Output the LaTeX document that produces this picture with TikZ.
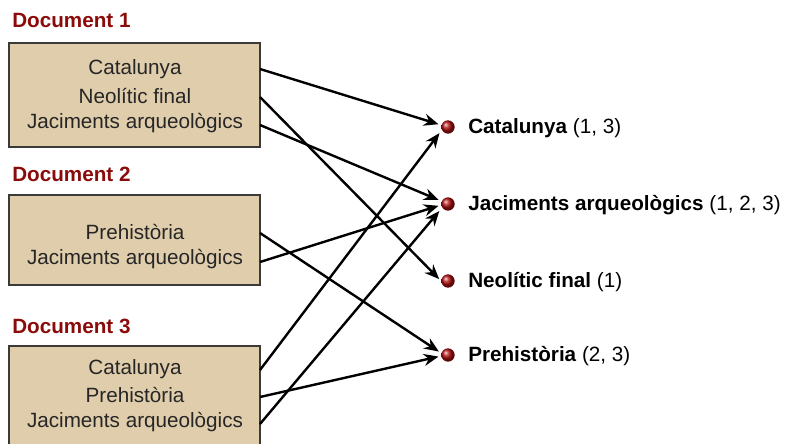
\documentclass[tikz,border=0pt]{standalone}
\usepackage{fontspec}
\setmainfont{Liberation Sans}
\usetikzlibrary{arrows.meta,calc}
\definecolor{doctitle}{HTML}{8B0A0A}
\definecolor{docfill}{HTML}{E0CDAC}
\definecolor{docedge}{HTML}{3A3A3A}
\definecolor{ballred}{HTML}{B01010}
\tikzset{
  doctitle/.style={anchor=west,text=doctitle,font=\fontsize{15.5}{18}\selectfont\bfseries,inner sep=0pt},
  docbox/.style={draw=docedge,fill=docfill,line width=1.2pt},
  docline/.style={text=black!85,font=\fontsize{15.5}{18}\selectfont,inner sep=0pt},
  term/.style={anchor=west,font=\fontsize{15.5}{18}\selectfont,inner sep=0pt},
  link/.style={line width=1.8pt,-{Stealth[length=11pt,width=9pt]},shorten >=2pt},
  ball/.style={circle,inner sep=0pt,minimum size=10pt,ball color=ballred,draw=none}
}
\begin{document}
\begin{tikzpicture}[x=0.75pt,y=-0.75pt]
\useasboundingbox (0,0) rectangle (788,443);
\clip (0,0) rectangle (788,443);

% document titles
\node[doctitle] (t1) at (12,20) {Document 1};
\node[doctitle] (t2) at (12,174) {Document 2};
\node[doctitle] (t3) at (12,326) {Document 3};

% document boxes
\path[docbox] (9,43) rectangle (260,147);
\path[docbox] (9,195) rectangle (260,285);
\path[docbox] (9,346) rectangle (260,460);

% box contents
\node[docline] (a1) at (135,69) {Catalunya};
\node[docline] (a2) at (135,96) {Neolític final};
\node[docline] (a3) at (135,123) {Jaciments arqueològics};
\node[docline] (b1) at (135,232) {Prehistòria};
\node[docline] (b2) at (135,259) {Jaciments arqueològics};
\node[docline] (c1) at (135,369) {Catalunya};
\node[docline] (c2) at (135,395) {Prehistòria};
\node[docline] (c3) at (135,422) {Jaciments arqueològics};

% connector start points on the boxes' right edges
\coordinate (sa1) at (260,69);
\coordinate (sa2) at (260,97);
\coordinate (sa3) at (260,125);
\coordinate (sb1) at (260,233);
\coordinate (sb2) at (260,262);
\coordinate (sc1) at (260,370);
\coordinate (sc2) at (260,397);
\coordinate (sc3) at (260,424);

% index terms
\node[ball] (kcat) at (448,127) {};
\node[ball] (kjac) at (448,204) {};
\node[ball] (kneo) at (448,281) {};
\node[ball] (kpre) at (448,355) {};
\node[term] (lcat) at (468,128) {\textbf{Catalunya} (1, 3)};
\node[term] (ljac) at (468,205) {\textbf{Jaciments arqueològics} (1, 2, 3)};
\node[term] (lneo) at (468,282) {\textbf{Neolític final} (1)};
\node[term] (lpre) at (468,356) {\textbf{Prehistòria} (2, 3)};

% connectors
\draw[link] (sa1) -- ($(kcat.west)+(0,-2)$);
\draw[link] (sa2) -- (kneo.west);
\draw[link] (sa3) -- ($(kjac.west)+(0,-3)$);
\draw[link] (sb1) -- ($(kpre.west)+(0,-2)$);
\draw[link] (sb2) -- ($(kjac.west)+(0,1)$);
\draw[link] (sc1) -- ($(kcat.west)+(0,4)$);
\draw[link] (sc2) -- ($(kpre.west)+(0,1)$);
\draw[link] (sc3) -- ($(kjac.west)+(0,5)$);
\end{tikzpicture}
\end{document}
